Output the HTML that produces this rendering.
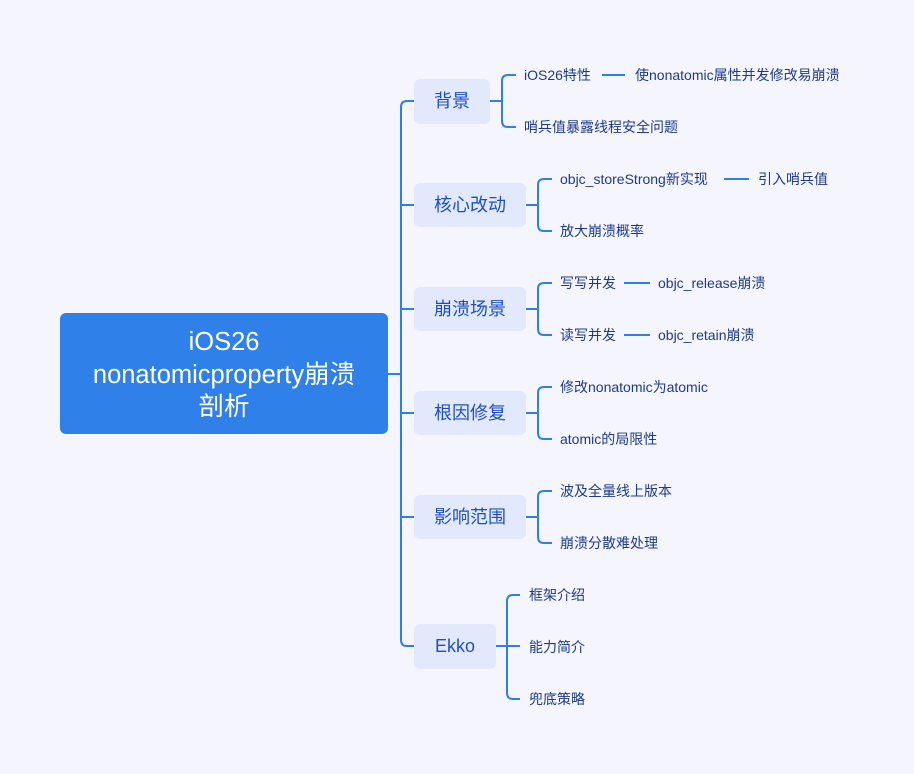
<!DOCTYPE html>
<html><head><meta charset="utf-8"><style>
html,body{margin:0;padding:0;background:#f4f5fd;}
svg{display:block;}
text{font-family:"Liberation Sans","Noto Sans CJK SC",sans-serif;}
.c{fill:#1e3a8a;font-size:14px;}
.k{fill:#1d4fc4;font-size:18px;text-anchor:middle;}
.l{fill:none;stroke:#2f7eea;stroke-width:2;}
.b{fill:#e2e9fc;}
</style></head><body>
<svg width="914" height="774" viewBox="0 0 914 774">
<rect width="914" height="774" fill="#f4f5fd"/>
<rect x="60" y="313" width="328" height="121" rx="6" fill="#3080ea"/>
<text x="224" y="350" fill="#fff" font-size="25.5" text-anchor="middle">iOS26</text>
<text x="224" y="383" fill="#fff" font-size="25.5" text-anchor="middle">nonatomicproperty崩溃</text>
<text x="224" y="415" fill="#fff" font-size="25.5" text-anchor="middle">剖析</text>
<path class="l" d="M388 374 H401"/>
<path class="l" d="M414 101 H407 Q401 101 401 107 V640 Q401 646 407 646 H414"/>
<path class="l" d="M401 205 H414 M401 309 H414 M401 413 H414 M401 517 H414"/>
<rect class="b" x="414" y="79" width="76" height="45" rx="6"/><text class="k" x="452" y="107">背景</text>
<rect class="b" x="414" y="183" width="112" height="44" rx="6"/><text class="k" x="470" y="211">核心改动</text>
<rect class="b" x="414" y="287" width="112" height="44" rx="6"/><text class="k" x="470" y="315">崩溃场景</text>
<rect class="b" x="414" y="391" width="112" height="44" rx="6"/><text class="k" x="470" y="419">根因修复</text>
<rect class="b" x="414" y="495" width="112" height="44" rx="6"/><text class="k" x="470" y="523">影响范围</text>
<rect class="b" x="414" y="624" width="82" height="45" rx="6"/><text class="k" x="455" y="652">Ekko</text>
<path class="l" d="M490 101 H502 M516 75 H508 Q502 75 502 81 V121 Q502 127 508 127 H516"/>
<text class="c" x="524" y="80">iOS26特性</text>
<path class="l" d="M602 75 H625"/>
<text class="c" x="635" y="80">使nonatomic属性并发修改易崩溃</text>
<text class="c" x="524" y="132">哨兵值暴露线程安全问题</text>
<path class="l" d="M526 205 H538 M552 179 H544 Q538 179 538 185 V225 Q538 231 544 231 H552"/>
<text class="c" x="560" y="184">objc_storeStrong新实现</text>
<path class="l" d="M724 179 H749"/>
<text class="c" x="758" y="184">引入哨兵值</text>
<text class="c" x="560" y="236">放大崩溃概率</text>
<path class="l" d="M526 309 H538 M552 283 H544 Q538 283 538 289 V329 Q538 335 544 335 H552"/>
<text class="c" x="560" y="288">写写并发</text>
<path class="l" d="M624 283 H650"/>
<text class="c" x="658" y="288">objc_release崩溃</text>
<text class="c" x="560" y="340">读写并发</text>
<path class="l" d="M624 335 H650"/>
<text class="c" x="658" y="340">objc_retain崩溃</text>
<path class="l" d="M526 413 H538 M552 387 H544 Q538 387 538 393 V433 Q538 439 544 439 H552"/>
<text class="c" x="560" y="392">修改nonatomic为atomic</text>
<text class="c" x="560" y="444">atomic的局限性</text>
<path class="l" d="M526 517 H538 M552 491 H544 Q538 491 538 497 V537 Q538 543 544 543 H552"/>
<text class="c" x="560" y="496">波及全量线上版本</text>
<text class="c" x="560" y="548">崩溃分散难处理</text>
<path class="l" d="M496 646 H520 M520 595 H513 Q507 595 507 601 V693 Q507 699 513 699 H520"/>
<text class="c" x="529" y="600">框架介绍</text>
<text class="c" x="529" y="652">能力简介</text>
<text class="c" x="529" y="704">兜底策略</text>
</svg>
</body></html>
